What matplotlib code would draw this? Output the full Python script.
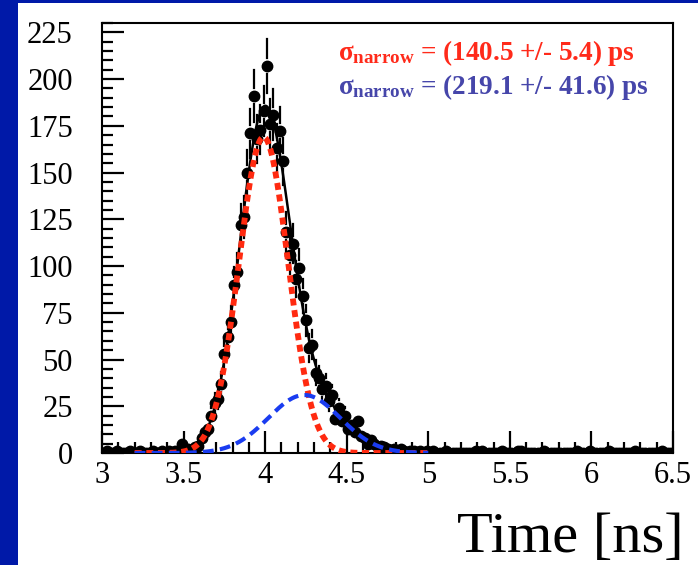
import numpy as np
import matplotlib
matplotlib.use("Agg")
from matplotlib import pyplot as plt
from matplotlib.patches import Rectangle
from matplotlib.ticker import MultipleLocator

plt.rcParams['font.family'] = ['Liberation Serif', 'DejaVu Serif']
plt.rcParams['mathtext.fontset'] = 'custom'
plt.rcParams['mathtext.rm'] = 'Liberation Serif:bold'
plt.rcParams['mathtext.it'] = 'Liberation Serif:bold'
plt.rcParams['mathtext.bf'] = 'Liberation Serif:bold'

# histogram: bins of 0.02 ns starting at 3.0 ns
bin_start = 3.0
bin_width = 0.02
counts = ([0, 1, 0, 0, 1, 0, 0, 0, 1, 0, 0, 1, 0, 0, 0, 1, 0, 0, 1, 0]          # 3.00-3.40
          + [1, 0, 1, 0, 5, 1, 2, 1, 3, 4]                                        # 3.40-3.60
          + [8, 11, 13, 20, 27, 29, 37, 53, 62, 70,
             90, 97, 122, 126, 150, 171, 191, 168, 173, 183]                      # 3.60-4.00
          + [207, 176, 181, 163, 172, 156, 118, 106, 112, 93,
             99, 84, 71, 56, 58, 43, 40, 34, 36, 28]                              # 4.00-4.40
          + [31, 18, 24, 17, 20, 13, 15, 11, 17, 9,
             8, 5, 7, 5, 3, 4, 3, 2, 1, 2]                                        # 4.40-4.80
          + [1, 2, 1, 0, 1, 1, 0, 1, 0, 1]                                        # 4.80-5.00
          + [0, 1, 0, 0, 0, 1, 0, 0, 0, 0, 0, 0, 0, 0, 1, 0, 1, 0, 0, 0,
             0, 0, 1, 0, 0, 0, 0, 1, 1, 0, 0, 0, 0, 0, 0, 1, 0, 0, 0, 0,
             0, 0, 0, 0, 0, 1, 0, 0, 0, 1, 0, 0, 0, 0, 0, 1, 0, 0, 0, 0,
             0, 0, 0, 1, 0, 0, 0, 0, 0, 0, 0, 1, 0, 0, 0])                        # 5.00-6.50

# fit parameters (amplitude, mean [ns], sigma [ns])
narrow_amp, narrow_mean, narrow_sigma = 169.0, 3.99, 0.15
wide_amp, wide_mean, wide_sigma = 31.0, 4.24, 0.22
fit_range = (3.2, 5.0)

label_narrow = r'$\sigma_{\rm narrow}$ = (140.5 +/- 5.4) ps'
label_wide = r'$\sigma_{\rm narrow}$ = (219.1 +/- 41.6) ps'

x_ticks = [3, 3.5, 4, 4.5, 5, 5.5, 6, 6.5]
x_ticklabels = ['3', '3.5', '4', '4.5', '5', '5.5', '6', '6.5']
y_ticks = [0, 25, 50, 75, 100, 125, 150, 175, 200, 225]


def gauss(x, a, m, s):
    return a * np.exp(-(x - m) ** 2 / (2 * s ** 2))


W, H = 698, 565
fig = plt.figure(figsize=(W / 100, H / 100), dpi=100)
fig.patch.set_facecolor('#0019a8')
fig.patches.append(Rectangle((18 / W, 0), 1, 1 - 3 / H, transform=fig.transFigure,
                             facecolor='white', edgecolor='none', zorder=0))

ax = fig.add_axes([102 / W, 1 - 453 / H, (673 - 102) / W, (453 - 23) / H])
ax.set_zorder(2)
ax.set_facecolor('white')
ax.set_xlim(3, 6.5)
ax.set_ylim(0, 230)

n = np.array(counts, dtype=float)
xc = bin_start + bin_width * (np.arange(len(n)) + 0.5)
err = np.sqrt(n)

# ROOT style error bars: leave a gap around the marker
px_per_count = (453 - 23) / 230.0
gap = 8 / px_per_count
for xi, yi, ei in zip(xc, n, err):
    if ei > gap:
        ax.plot([xi, xi], [yi + gap, yi + ei], color='black', lw=1.6, zorder=2)
        ax.plot([xi, xi], [yi - ei, yi - gap], color='black', lw=1.6, zorder=2)
ax.plot(xc, n, 'o', color='black', markersize=7.5, zorder=3)

xf = np.linspace(fit_range[0], fit_range[1], 400)
g1 = gauss(xf, narrow_amp, narrow_mean, narrow_sigma)
g2 = gauss(xf, wide_amp, wide_mean, wide_sigma)
ax.plot(xf, g1 + g2, color='black', lw=1.8, zorder=4)
ax.plot(xf, g1, color='#ff2a10', lw=4.2, dashes=(1.2, 0.8), zorder=5)
ax.plot(xf, g2, color='#1a3cf0', lw=3.0, dashes=(2.6, 1.5), zorder=5)

for s in ax.spines.values():
    s.set_linewidth(1.5)
    s.set_color('black')

ax.set_xticks(x_ticks)
ax.set_xticklabels(x_ticklabels)
ax.set_yticks(y_ticks)
ax.xaxis.set_minor_locator(MultipleLocator(0.1))
ax.yaxis.set_minor_locator(MultipleLocator(5))
ax.tick_params(which='both', direction='in', top=False, right=False, width=1.6,
               labelsize=22)
ax.tick_params(which='major', length=16)
ax.tick_params(which='minor', length=8)
ax.tick_params(axis='y', pad=21)
ax.tick_params(axis='x', pad=6)

fig.text(684 / W, 1 - 552 / H, 'Time [ns]', fontsize=42, ha='right', va='baseline')

fig.text(338 / W, 1 - 60 / H, label_narrow, color='#ff2a1a', fontsize=19.5,
         fontweight='bold', ha='left', va='baseline', zorder=5)
fig.text(338 / W, 1 - 94 / H, label_wide, color='#4646aa', fontsize=19.5,
         fontweight='bold', ha='left', va='baseline', zorder=5)

fig.savefig('out.png', dpi=100, facecolor=fig.get_facecolor())
